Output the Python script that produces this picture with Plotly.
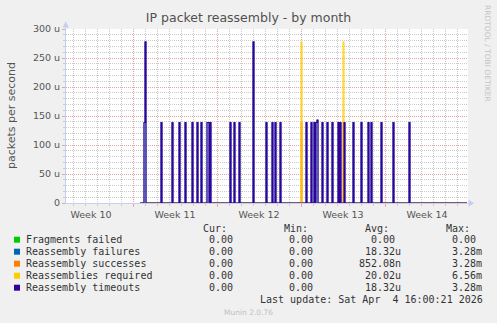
import pandas as pd
import plotly.graph_objects as go

# ---- data -----------------------------------------------------------------
# 2-hour consolidated samples; every sample not listed below is 0.
data_start = "2026-03-09 14:00"
data_end = "2026-04-05 20:00"
sample_step = "2h"

timeout_times = [
    "2026-03-09 22:00", "2026-03-10 00:00", "2026-03-11 08:00", "2026-03-12 06:00",
    "2026-03-12 20:00", "2026-03-13 08:00", "2026-03-13 22:00", "2026-03-14 08:00",
    "2026-03-14 16:00", "2026-03-15 04:00", "2026-03-15 06:00", "2026-03-15 10:00",
    "2026-03-17 02:00", "2026-03-17 10:00", "2026-03-17 20:00", "2026-03-19 00:00",
    "2026-03-20 02:00", "2026-03-20 14:00", "2026-03-20 20:00", "2026-03-21 06:00",
    "2026-03-23 10:00", "2026-03-23 20:00", "2026-03-24 02:00", "2026-03-24 06:00",
    "2026-03-24 08:00", "2026-03-24 18:00", "2026-03-25 04:00", "2026-03-25 14:00",
    "2026-03-26 02:00", "2026-03-26 06:00", "2026-03-26 14:00", "2026-03-27 08:00",
    "2026-03-28 00:00", "2026-03-28 14:00", "2026-03-28 20:00", "2026-03-29 16:00",
    "2026-03-30 16:00", "2026-04-01 00:00",
]
timeout_values = [
    138.9e-6, 277.8e-6, 138.9e-6, 138.9e-6,
    138.9e-6, 138.9e-6, 138.9e-6, 138.9e-6,
    138.9e-6, 138.9e-6, 138.9e-6, 138.9e-6,
    138.9e-6, 138.9e-6, 138.9e-6, 277.8e-6,
    138.9e-6, 138.9e-6, 138.9e-6, 138.9e-6,
    138.9e-6, 138.9e-6, 138.9e-6, 138.9e-6,
    143.0e-6, 138.9e-6, 138.9e-6, 138.9e-6,
    138.9e-6, 138.9e-6, 138.9e-6, 138.9e-6,
    138.9e-6, 138.9e-6, 138.9e-6, 138.9e-6,
    138.9e-6, 138.9e-6,
]
failure_times = list(timeout_times)
failure_values = list(timeout_values)

success_times = ["2026-03-23 00:00", "2026-03-26 12:00"]
success_values = [138.9e-6, 138.9e-6]

required_times = ["2026-03-23 00:00", "2026-03-26 12:00"]
required_values = [277.8e-6, 277.8e-6]

fragfail_times = []
fragfail_values = []

series_names = ["Fragments failed", "Reassembly failures", "Reassembly successes",
                "Reassemblies required", "Reassembly timeouts"]
series_colors = ["#00cc00", "#0066b3", "#ff8000", "#ffcc00", "#330099"]

# legend statistics (cur, min, avg, max) in packets per second
stat_cur = [0.0, 0.0, 0.0, 0.0, 0.0]
stat_min = [0.0, 0.0, 0.0, 0.0, 0.0]
stat_avg = [0.0, 18.32e-6, 852.08e-9, 20.02e-6, 18.32e-6]
stat_max = [0.0, 3.28e-3, 3.28e-3, 6.56e-3, 3.28e-3]

ytick_values = [0, 50e-6, 100e-6, 150e-6, 200e-6, 250e-6, 300e-6]
ytick_labels = ["0", "50 u", "100 u", "150 u", "200 u", "250 u", "300 u"]

x_range = ["2026-03-03 10:00", "2026-04-05 22:00"]
last_update = "Last update: Sat Apr  4 16:00:21 2026"

# ---- layout geometry (pixels) ---------------------------------------------
W, H = 497, 323
PL, PR, PT, PB = 66, 468, 29, 203


def px(x):
    return (x - PL) / (PR - PL)


def py(y):
    return (PB - y) / (PB - PT)


def fmt(v):
    """rrdtool style '%6.2lf%s' with SI prefix."""
    if v == 0:
        return f"{0:6.2f} "
    for exp, sym in [(3, "k"), (0, " "), (-3, "m"), (-6, "u"), (-9, "n")]:
        if abs(v) >= 10 ** exp:
            return f"{v / 10 ** exp:6.2f}{sym}"
    return f"{v / 1e-9:6.2f}n"


def nb(s):
    return s.replace(" ", "\u00a0")


grid = pd.date_range(data_start, data_end, freq=sample_step)


def build(times, values):
    s = pd.Series(0.0, index=grid)
    if times:
        s.loc[pd.to_datetime(times)] = values
    return s


all_series = [
    build(fragfail_times, fragfail_values),
    build(failure_times, failure_values),
    build(success_times, success_values),
    build(required_times, required_values),
    build(timeout_times, timeout_values),
]

line_widths = [1, 0.8, 1, 1, 1.1]

fig = go.Figure()
for name, color, lw, s in zip(series_names, series_colors, line_widths, all_series):
    fig.add_trace(go.Scatter(
        x=s.index, y=s.values, name=name, mode="lines",
        line=dict(color=color, width=lw, shape="hv"),
        showlegend=False, hoverinfo="skip",
    ))

GRID = "#cbcbcb"
MGRID = "#e6a3a3"
AXIS = "#c6cdf2"
TXT = "#555555"

fig.update_layout(
    width=W, height=H, autosize=False,
    margin=dict(l=PL, r=W - PR, t=PT, b=H - PB, pad=0),
    paper_bgcolor="#f0f0f0", plot_bgcolor="#ffffff",
    font=dict(family="DejaVu Sans", color=TXT, size=10),
    title=dict(text="IP packet reassembly - by month", x=0.5, xref="container",
               xanchor="center", y=1 - 18 / H, yref="container", yanchor="middle",
               font=dict(size=12.5, color="#505050")),
    xaxis=dict(
        type="date", range=x_range, tickmode="linear", tick0="2026-03-02",
        dtick=7 * 86400000, ticklabelmode="period", tickformat="Week %V",
        showgrid=True, gridcolor=MGRID, griddash="1px,1px", gridwidth=1,
        ticks="outside", ticklen=3, tickcolor=MGRID,
        minor=dict(tickmode="linear", tick0="2026-03-02", dtick=86400000,
                   showgrid=True, gridcolor=GRID, griddash="1px,1px",
                   ticks="outside", ticklen=2, tickcolor=GRID),
        showline=True, linecolor=AXIS, linewidth=1, zeroline=False,
        layer="below traces", tickfont=dict(size=9.5, color=TXT),
        fixedrange=True,
    ),
    yaxis=dict(
        range=[0, 300e-6], tickmode="array", tickvals=ytick_values,
        ticktext=ytick_labels, showgrid=True, gridcolor=MGRID,
        griddash="1px,1px", ticks="outside", ticklen=3, tickcolor=MGRID,
        minor=dict(tickmode="linear", tick0=0, dtick=10e-6, showgrid=True,
                   gridcolor=GRID, griddash="1px,1px", ticks="outside",
                   ticklen=2, tickcolor=GRID),
        showline=True, linecolor=AXIS, linewidth=1, zeroline=False,
        layer="below traces", tickfont=dict(size=9.5, color=TXT),
        fixedrange=True,
    ),
)

ann = []


def text(x, y, s, size=10, color="#333333", family="DejaVu Sans Mono",
         xanchor="left", angle=0):
    ann.append(dict(x=px(x), y=py(y), xref="paper", yref="paper", text=s,
                    showarrow=False, xanchor=xanchor, yanchor="middle",
                    textangle=angle, borderpad=0, borderwidth=0,
                    font=dict(size=size, color=color, family=family)))


text(11, 116, "packets per second", size=11, color=TXT, family="DejaVu Sans",
     xanchor="center", angle=-90)
text(488, 53, "RRDTOOL / TOBI OETIKER", size=7.5, color="#c4c4c4",
     family="DejaVu Sans", xanchor="center", angle=90)

col_head = [("Cur:", 203.2), ("Min:", 284.3), ("Avg:", 365.4), ("Max:", 446.0)]
for lbl, x in col_head:
    text(x, 228.5, lbl)

col_x = [196.8, 277.4, 359.4, 440.4]
shapes = []
for i, name in enumerate(series_names):
    ry = 239.7 + 12 * i
    shapes.append(dict(type="rect", xref="paper", yref="paper",
                       x0=px(14), x1=px(20), y0=py(ry + 3), y1=py(ry - 3),
                       fillcolor=series_colors[i], line=dict(width=0)))
    text(25.6, ry, nb(name))
    for cx, v in zip(col_x, [stat_cur[i], stat_min[i], stat_avg[i], stat_max[i]]):
        text(cx, ry, nb(fmt(v)))

text(482.8, 299.5, nb(last_update), xanchor="right")
text(248.5, 312.5, "Munin 2.0.76", size=7.5, color="#c0c0c0",
     family="DejaVu Sans", xanchor="center")

# axis arrows
shapes.append(dict(type="path", xref="paper", yref="paper",
                   path=f"M {px(468.5)},{py(199.5)} L {px(474)},{py(203.2)} "
                        f"L {px(468.5)},{py(206.8)} Z",
                   fillcolor=AXIS, line=dict(width=0)))
shapes.append(dict(type="path", xref="paper", yref="paper",
                   path=f"M {px(62.5)},{py(27.5)} L {px(65.7)},{py(21.5)} "
                        f"L {px(69)},{py(27.5)} Z",
                   fillcolor=AXIS, line=dict(width=0)))
shapes.append(dict(type="line", xref="paper", yref="paper",
                   x0=px(65.6), x1=px(65.6), y0=py(29), y1=py(26),
                   line=dict(color=AXIS, width=1)))

fig.update_layout(annotations=ann, shapes=shapes)
fig.write_html("out.html")
